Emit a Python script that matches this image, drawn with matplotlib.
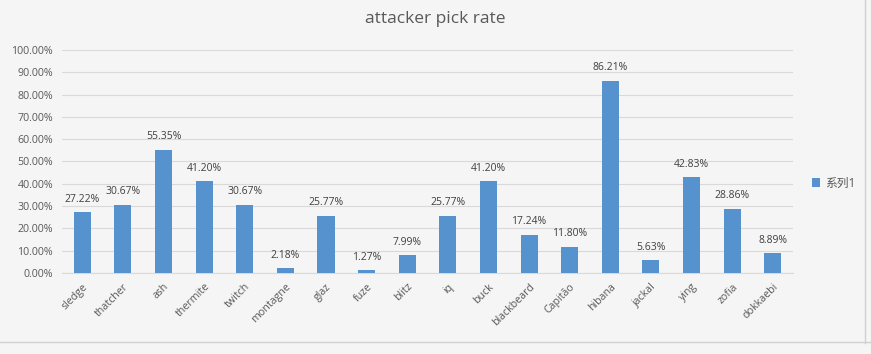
import matplotlib
matplotlib.use("Agg")
import matplotlib.pyplot as plt
from matplotlib.ticker import FuncFormatter

categories = ["sledge", "thatcher", "ash", "thermite", "twitch", "montagne", "glaz", "fuze",
              "blitz", "iq", "buck", "blackbeard", "Capitão", "hibana", "jackal", "ying",
              "zofia", "dokkaebi"]
values = [27.22, 30.67, 55.35, 41.20, 30.67, 2.18, 25.77, 1.27, 7.99, 25.77, 41.20, 17.24,
          11.80, 86.21, 5.63, 42.83, 28.86, 8.89]
yticks = [0, 10, 20, 30, 40, 50, 60, 70, 80, 90, 100]
title = "attacker pick rate"
series_name = "系列1"

plt.rcParams['font.family'] = ['Open Sans', 'Noto Sans CJK SC', 'DejaVu Sans']
bg = "#f5f5f5"
txt = "#595959"
bar_c = "#5592ce"

fig = plt.figure(figsize=(8.71, 3.54), dpi=100, facecolor=bg)
ax = fig.add_axes([0.0712, 0.2288, 0.8393, 0.63])
ax.set_facecolor(bg)

x = list(range(len(categories)))
bars = ax.bar(x, values, width=0.42, color=bar_c, label=series_name, zorder=3)
for xi, v in zip(x, values):
    ax.text(xi, v + 3.3, f"{v:.2f}%", ha="center", va="bottom", fontsize=7.5, color="#404040")

ax.set_xlim(-0.5, len(categories) - 0.5)
ax.set_ylim(0, 100)
ax.set_yticks(yticks)
ax.yaxis.set_major_formatter(FuncFormatter(lambda v, p: f"{v:.2f}%"))
ax.grid(axis="y", color="#d9d9d9", linewidth=0.8, zorder=0)
ax.set_xticks(x)
ax.set_xticklabels(categories, rotation=45, ha="right", rotation_mode="anchor")
ax.tick_params(axis="both", length=0, colors=txt, labelsize=7.7)
ax.tick_params(axis="x", pad=6)
ax.tick_params(axis="y", pad=6.5)
for s in ["top", "right", "left"]:
    ax.spines[s].set_visible(False)
ax.spines["bottom"].set_color("#d9d9d9")

fig.text(0.5, 0.945, title, ha="center", va="center", fontsize=12.5, color=txt)

leg = fig.legend(handles=[bars], labels=[series_name], loc="center left",
                 bbox_to_anchor=(0.92, 0.483), frameon=False, fontsize=8.5,
                 handlelength=0.7, handleheight=0.7, handletextpad=0.4)
for t in leg.get_texts():
    t.set_color(txt)

# spreadsheet frame lines
fig.add_artist(plt.Line2D([0.0, 1.0], [1 - 342 / 354, 1 - 342 / 354], color="#d0d0d0", lw=1))
fig.add_artist(plt.Line2D([0.993, 0.993], [0.03, 1.0], color="#d0d0d0", lw=1))

fig.savefig("out.png", dpi=100, facecolor=bg)
